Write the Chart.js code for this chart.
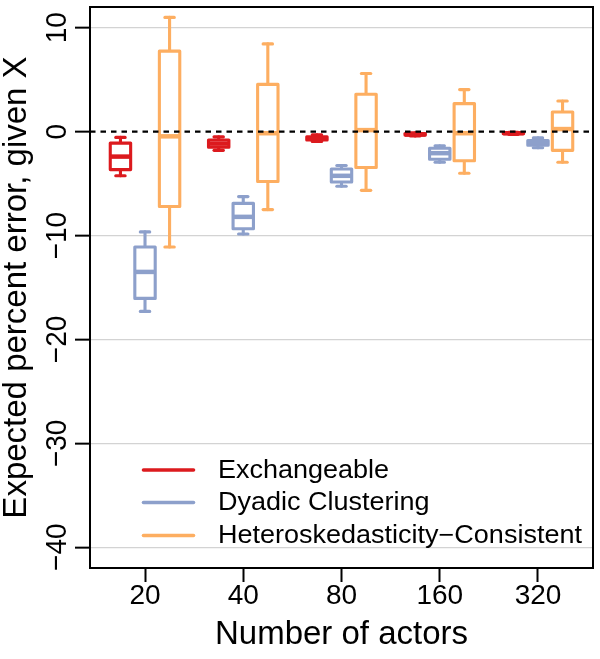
<!DOCTYPE html>
<html>
<head>
<meta charset="utf-8">
<script src="https://cdn.jsdelivr.net/npm/chart.js@4/dist/chart.umd.min.js"></script>
<style>
  body { margin: 0; background: #fff; }
  canvas { display: block; }
</style>
</head>
<body>
<canvas id="myChart" width="600" height="659"></canvas>
<script>
const FONT = '"Liberation Sans", Arial, Helvetica, sans-serif';

let actors = ['20', '40', '80', '160', '320'];
let seriesNames = ['Exchangeable', 'Dyadic Clustering', 'Heteroskedasticity\u2212Consistent'];
let seriesColors = ['#DC1A1E', '#8DA0CB', '#FDAE61'];
let yTicks = [10, 0, -10, -20, -30, -40];

// box plot summaries: upper whisker, upper quartile, median, lower quartile, lower whisker
let exchHi  = [-0.55, -0.5, -0.3, -0.1, -0.06];
let exchQ3  = [-1.1, -0.8, -0.5, -0.18, -0.1];
let exchMed = [-2.4, -1.15, -0.65, -0.26, -0.15];
let exchQ1  = [-3.65, -1.5, -0.8, -0.33, -0.2];
let exchLo  = [-4.25, -1.8, -0.95, -0.42, -0.26];

let dyadHi  = [-9.65, -6.25, -3.25, -1.35, -0.6];
let dyadQ3  = [-11.1, -6.9, -3.6, -1.6, -0.85];
let dyadMed = [-13.5, -8.2, -4.25, -2.07, -1.05];
let dyadQ1  = [-16.05, -9.35, -4.85, -2.65, -1.3];
let dyadLo  = [-17.3, -9.85, -5.25, -2.95, -1.55];

let hcHi  = [11.0, 8.45, 5.6, 4.05, 2.95];
let hcQ3  = [7.75, 4.55, 3.6, 2.7, 1.9];
let hcMed = [-0.45, -0.15, 0.15, -0.15, 0.25];
let hcQ1  = [-7.2, -4.8, -3.45, -2.8, -1.8];
let hcLo  = [-11.1, -7.5, -5.65, -4.0, -2.95];

let stats = [
  {hi: exchHi, q3: exchQ3, med: exchMed, q1: exchQ1, lo: exchLo},
  {hi: dyadHi, q3: dyadQ3, med: dyadMed, q1: dyadQ1, lo: dyadLo},
  {hi: hcHi, q3: hcQ3, med: hcMed, q1: hcQ1, lo: hcLo}
];

let chartData = {
  datasets: stats.map((s, d) => ({
    label: seriesNames[d],
    data: actors.map((a, i) => ({x: i + 1, y: [s.q1[i], s.q3[i]]})),
    backgroundColor: 'rgba(0,0,0,0)',
    borderWidth: 0
  }))
};

function line(ctx, x1, y1, x2, y2) {
  ctx.beginPath();
  ctx.moveTo(x1, y1);
  ctx.lineTo(x2, y2);
  ctx.stroke();
}

function stretchedText(ctx, text, x, y, size, align, sx) {
  ctx.save();
  ctx.translate(x, y);
  ctx.scale(sx, 1);
  ctx.font = size + 'px ' + FONT;
  ctx.textAlign = align;
  ctx.textBaseline = 'middle';
  ctx.fillStyle = '#000';
  ctx.fillText(text, 0, 0);
  ctx.restore();
}

const boxPlugin = {
  id: 'boxes',
  afterDatasetsDraw(chart) {
    const ctx = chart.ctx;
    const ys = chart.scales.y;
    const area = chart.chartArea;
    ctx.save();
    chart.data.datasets.forEach((ds, d) => {
      const meta = chart.getDatasetMeta(d);
      const s = stats[d];
      meta.data.forEach((bar, i) => {
        const cx = bar.x, w = bar.width, half = w / 2, cap = w * 0.23;
        const pHi = ys.getPixelForValue(s.hi[i]);
        const pQ3 = ys.getPixelForValue(s.q3[i]);
        const pMed = ys.getPixelForValue(s.med[i]);
        const pQ1 = ys.getPixelForValue(s.q1[i]);
        const pLo = ys.getPixelForValue(s.lo[i]);
        ctx.strokeStyle = seriesColors[d];
        ctx.lineWidth = 3.1;
        ctx.lineCap = 'round';
        ctx.lineJoin = 'round';
        line(ctx, cx, pHi, cx, pQ3);
        line(ctx, cx, pQ1, cx, pLo);
        line(ctx, cx - cap, pHi, cx + cap, pHi);
        line(ctx, cx - cap, pLo, cx + cap, pLo);
        ctx.fillStyle = '#fff';
        ctx.fillRect(cx - half, pQ3, w, pQ1 - pQ3);
        ctx.strokeRect(cx - half, pQ3, w, pQ1 - pQ3);
        ctx.lineWidth = 4.5;
        ctx.lineCap = 'butt';
        line(ctx, cx - half, pMed, cx + half, pMed);
      });
    });
    // reference line at zero
    const y0 = ys.getPixelForValue(0);
    ctx.strokeStyle = '#000';
    ctx.lineWidth = 2.2;
    ctx.lineCap = 'butt';
    ctx.setLineDash([5.5, 5]);
    line(ctx, area.left, y0, area.right, y0);
    ctx.restore();
  },
  afterDraw(chart) {
    const ctx = chart.ctx;
    const ys = chart.scales.y;
    const area = chart.chartArea;
    ctx.save();
    // frame
    ctx.strokeStyle = '#000';
    ctx.lineWidth = 2;
    ctx.strokeRect(area.left, area.top, area.right - area.left, area.bottom - area.top);
    // rotated y tick labels
    yTicks.forEach(v => {
      ctx.save();
      ctx.translate(58, ys.getPixelForValue(v));
      ctx.rotate(-Math.PI / 2);
      ctx.scale(1, 1.08);
      ctx.font = '28px ' + FONT;
      ctx.textAlign = 'center';
      ctx.textBaseline = 'middle';
      ctx.fillStyle = '#000';
      ctx.fillText(v < 0 ? '\u2212' + Math.abs(v) : String(v), 0, 0);
      ctx.restore();
    });
    // legend
    const ly = [470, 502.5, 535.5];
    seriesNames.forEach((name, d) => {
      ctx.strokeStyle = seriesColors[d];
      ctx.lineWidth = 3.6;
      ctx.lineCap = 'round';
      line(ctx, 143.5, ly[d], 193.5, ly[d]);
      stretchedText(ctx, name, 218, ly[d] + 1, 25, 'left', 1.08);
    });
    ctx.restore();
  }
};

let myChart = new Chart(document.getElementById('myChart'), {
  type: 'bar',
  data: chartData,
  plugins: [boxPlugin],
  options: {
    responsive: false,
    animation: false,
    datasets: { bar: { categoryPercentage: 0.75, barPercentage: 0.83 } },
    layout: { padding: { top: 7, right: 7, left: 0, bottom: 0 } },
    plugins: { legend: { display: false }, tooltip: { enabled: false } },
    scales: {
      x: {
        type: 'linear',
        min: 0.44,
        max: 5.56,
        offset: false,
        border: { display: false },
        grid: { offset: false, drawOnChartArea: false, tickLength: 14, tickColor: '#000', tickWidth: 2 },
        ticks: {
          stepSize: 1,
          includeBounds: false,
          autoSkip: false,
          maxRotation: 0,
          padding: -3,
          color: '#000',
          font: { size: 28, family: FONT },
          callback: v => actors[Math.round(v) - 1]
        },
        title: {
          display: true,
          text: 'Number of actors',
          color: '#000',
          font: { size: 33, family: FONT },
          padding: { top: 0, bottom: 4.5 }
        },
        afterFit: s => { s.height = 91; }
      },
      y: {
        min: -42,
        max: 12,
        border: { display: false },
        grid: {
          color: c => (c.tick && c.tick.value === 0) ? 'rgba(0,0,0,0)' : '#D3D3D3',
          lineWidth: 1.3,
          tickColor: '#000',
          tickLength: 15,
          tickWidth: 2
        },
        ticks: { stepSize: 10, includeBounds: false, display: false },
        title: {
          display: true,
          text: 'Expected percent error, given X',
          color: '#000',
          font: { size: 33, family: FONT, lineHeight: 1 },
          padding: { top: 0.5, bottom: 0 }
        },
        afterFit: s => { s.width = 90; }
      }
    }
  }
});
</script>
</body>
</html>
